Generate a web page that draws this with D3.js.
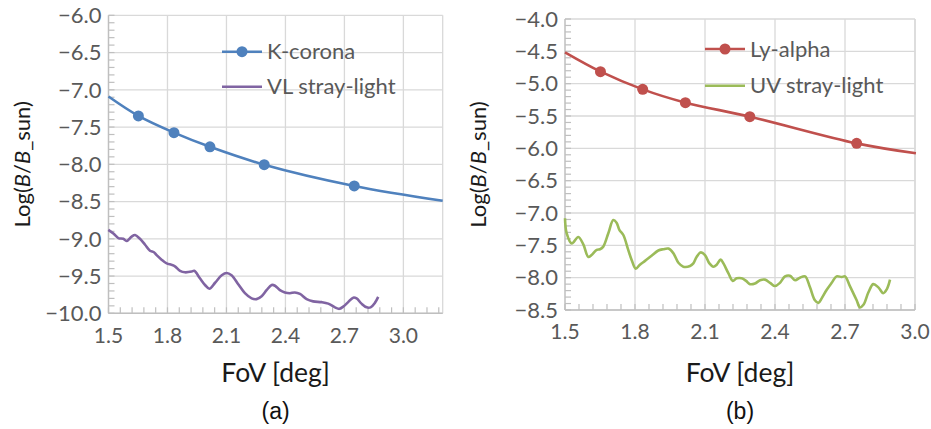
<!DOCTYPE html>
<html><head><meta charset="utf-8">
<script src="https://cdn.jsdelivr.net/npm/d3@7"></script>
<style>
body{margin:0;background:#fff;}
svg{display:block;font-family:Lato,"Open Sans",sans-serif;}
</style></head>
<body><svg id="c" width="931" height="429"></svg>
<script>
// ---- Data ----
const markerFoV = [1.652, 1.833, 2.016, 2.292, 2.750];
const kCoronaLine = [[1.5,-7.09],[1.652,-7.35],[1.833,-7.575],[2.016,-7.765],[2.292,-8.005],[2.750,-8.29],[3.2,-8.49]];
const kCoronaMarkers = [-7.35,-7.575,-7.765,-8.005,-8.29];
const vlStray = [[1.499,-8.88],[1.525,-8.93],[1.550,-8.99],[1.575,-9.00],[1.592,-9.03],[1.618,-8.97],[1.635,-8.95],[1.660,-9.00],[1.686,-9.08],[1.711,-9.16],[1.731,-9.18],[1.745,-9.22],[1.770,-9.28],[1.796,-9.33],[1.821,-9.35],[1.838,-9.37],[1.864,-9.43],[1.889,-9.45],[1.923,-9.44],[1.936,-9.43],[1.965,-9.53],[1.991,-9.62],[2.013,-9.67],[2.042,-9.59],[2.076,-9.49],[2.101,-9.46],[2.126,-9.49],[2.160,-9.61],[2.194,-9.73],[2.228,-9.80],[2.253,-9.81],[2.279,-9.77],[2.304,-9.69],[2.330,-9.62],[2.347,-9.63],[2.372,-9.69],[2.397,-9.72],[2.423,-9.73],[2.448,-9.72],[2.474,-9.74],[2.508,-9.81],[2.541,-9.84],[2.584,-9.85],[2.618,-9.87],[2.652,-9.92],[2.674,-9.94],[2.694,-9.91],[2.719,-9.85],[2.745,-9.79],[2.762,-9.80],[2.787,-9.87],[2.813,-9.92],[2.833,-9.92],[2.855,-9.86],[2.872,-9.78]];
const lyAlphaLine = [[1.5,-4.515],[1.653,-4.814],[1.833,-5.088],[2.017,-5.294],[2.293,-5.51],[2.750,-5.923],[3.004,-6.077]];
const lyAlphaMarkers = [-4.814,-5.088,-5.294,-5.51,-5.923];
const uvStray = [[1.500,-7.08],[1.507,-7.31],[1.529,-7.47],[1.557,-7.37],[1.579,-7.49],[1.600,-7.68],[1.614,-7.65],[1.636,-7.57],[1.650,-7.56],[1.664,-7.52],[1.686,-7.31],[1.707,-7.11],[1.721,-7.15],[1.733,-7.26],[1.750,-7.34],[1.771,-7.57],[1.786,-7.73],[1.803,-7.86],[1.821,-7.80],[1.843,-7.74],[1.871,-7.66],[1.900,-7.58],[1.921,-7.56],[1.943,-7.55],[1.964,-7.62],[1.986,-7.77],[2.007,-7.83],[2.036,-7.82],[2.050,-7.78],[2.064,-7.68],[2.081,-7.61],[2.100,-7.65],[2.119,-7.78],[2.136,-7.83],[2.150,-7.80],[2.167,-7.72],[2.179,-7.78],[2.200,-7.93],[2.219,-8.05],[2.236,-8.01],[2.257,-8.01],[2.276,-8.05],[2.293,-8.10],[2.314,-8.09],[2.336,-8.04],[2.357,-8.03],[2.379,-8.08],[2.400,-8.13],[2.421,-8.08],[2.443,-7.98],[2.464,-7.97],[2.486,-8.04],[2.507,-8.00],[2.529,-7.98],[2.550,-8.15],[2.571,-8.35],[2.586,-8.39],[2.600,-8.32],[2.621,-8.19],[2.643,-8.08],[2.664,-7.98],[2.686,-7.99],[2.700,-7.98],[2.721,-8.13],[2.750,-8.35],[2.764,-8.46],[2.779,-8.42],[2.800,-8.23],[2.821,-8.10],[2.843,-8.15],[2.864,-8.24],[2.879,-8.18],[2.893,-8.03]];
const xTicksA = [1.5,1.8,2.1,2.4,2.7,3.0];
const xTicksB = [1.5,1.8,2.1,2.4,2.7,3.0];
const yTicksA = [-6.0,-6.5,-7.0,-7.5,-8.0,-8.5,-9.0,-9.5,-10.0];
const yTicksB = [-4.0,-4.5,-5.0,-5.5,-6.0,-6.5,-7.0,-7.5,-8.0,-8.5];
const legendA = ["K-corona","VL stray-light"];
const legendB = ["Ly-alpha","UV stray-light"];
const panelLabels = ["(a)","(b)"];

const svg = d3.select("#c");
svg.append("rect").attr("width",931).attr("height",429).attr("fill","#fff");
const fmt = v => (v<0?"\u2212":"")+Math.abs(v).toFixed(1);

function panel(o){
  const g = svg.append("g");
  const x = d3.scaleLinear().domain(o.xDom).range([o.left,o.right]);
  const y = d3.scaleLinear().domain(o.yDom).range([o.bottom,o.top]);
  // gridlines
  g.selectAll(".hg").data(o.yTicks).join("line")
    .attr("x1",o.left).attr("x2",o.right).attr("y1",d=>y(d)).attr("y2",d=>y(d))
    .attr("stroke","#d9d9d9").attr("stroke-width",1.3);
  g.selectAll(".vg").data(o.xTicks.filter(d=>d>o.xDom[0])).join("line")
    .attr("x1",d=>x(d)).attr("x2",d=>x(d)).attr("y1",o.top).attr("y2",o.bottom)
    .attr("stroke","#d9d9d9").attr("stroke-width",1.3);
  g.append("line").attr("x1",o.right).attr("x2",o.right).attr("y1",o.top).attr("y2",o.bottom)
    .attr("stroke","#d9d9d9").attr("stroke-width",1.3);
  // minor ticks
  const yMinor = d3.range(Math.round(o.yDom[0]*10), Math.round(o.yDom[1]*10)+1).map(v=>v/10);
  g.selectAll(".ym").data(yMinor).join("line")
    .attr("x1",o.left).attr("x2",o.left+6).attr("y1",d=>y(d)).attr("y2",d=>y(d))
    .attr("stroke","#bfbfbf").attr("stroke-width",1.2);
  const xMinor = d3.range(0, Math.floor((o.xDom[1]-o.xDom[0])/0.06+1e-6)+1).map(i=>o.xDom[0]+i*0.06);
  g.selectAll(".xm").data(xMinor).join("line")
    .attr("x1",d=>x(d)).attr("x2",d=>x(d)).attr("y1",o.bottom).attr("y2",o.bottom-6)
    .attr("stroke","#bfbfbf").attr("stroke-width",1.2);
  // axes lines
  g.append("line").attr("x1",o.left).attr("x2",o.left).attr("y1",o.top).attr("y2",o.bottom)
    .attr("stroke","#bfbfbf").attr("stroke-width",1.5);
  g.append("line").attr("x1",o.left).attr("x2",o.right).attr("y1",o.bottom).attr("y2",o.bottom)
    .attr("stroke","#bfbfbf").attr("stroke-width",1.5);
  // tick labels
  g.selectAll(".yl").data(o.yTicks).join("text")
    .attr("x",o.left-7).attr("y",d=>y(d)).attr("dy","0.35em").attr("text-anchor","end")
    .attr("font-size",22).attr("fill","#595959").text(fmt);
  g.selectAll(".xl").data(o.xTicks).join("text")
    .attr("x",d=>x(d)).attr("y",o.bottom+22).attr("dy","0.35em").attr("text-anchor","middle")
    .attr("font-size",21).attr("fill","#595959").text(d=>d.toFixed(1));
  // titles
  const yt = g.append("text").attr("transform",`translate(${o.ytX},${(o.top+o.bottom)/2}) rotate(-90)`)
    .attr("text-anchor","middle").attr("dy","0.35em").attr("font-size",22).attr("fill","#1a1a1a");
  yt.append("tspan").text("Log(");
  yt.append("tspan").attr("font-style","italic").text("B");
  yt.append("tspan").text("/");
  yt.append("tspan").attr("font-style","italic").text("B");
  yt.append("tspan").text("_sun)");
  const cx = (o.left+o.right)/2;
  g.append("text").attr("x",cx).attr("y",373).attr("dy","0.35em").attr("text-anchor","middle")
    .attr("font-size",26.5).attr("fill","#1a1a1a").text("FoV [deg]");
  g.append("text").attr("x",cx).attr("y",411).attr("dy","0.35em").attr("text-anchor","middle")
    .attr("font-family","'Liberation Sans',Arial,sans-serif")
    .attr("font-size",23).attr("fill","#111").text(o.label);
  // series
  const line = d3.line().x(d=>x(d[0])).y(d=>y(d[1])).curve(d3.curveCatmullRom.alpha(0.5));
  g.append("path").datum(o.stray).attr("d",line).attr("fill","none")
    .attr("stroke",o.strayColor).attr("stroke-width",2.6).attr("stroke-linejoin","round");
  g.append("path").datum(o.main).attr("d",line).attr("fill","none")
    .attr("stroke",o.mainColor).attr("stroke-width",2.6);
  g.selectAll(".mk").data(markerFoV.map((f,i)=>[f,o.markers[i]])).join("circle")
    .attr("cx",d=>x(d[0])).attr("cy",d=>y(d[1])).attr("r",5.5).attr("fill",o.mainColor);
  // legend
  const L = o.legend;
  g.append("line").attr("x1",L.x).attr("x2",L.x+40).attr("y1",L.y1).attr("y2",L.y1)
    .attr("stroke",o.mainColor).attr("stroke-width",2.6);
  g.append("circle").attr("cx",L.x+20).attr("cy",L.y1).attr("r",5.5).attr("fill",o.mainColor);
  g.append("line").attr("x1",L.x).attr("x2",L.x+40).attr("y1",L.y2).attr("y2",L.y2)
    .attr("stroke",o.strayColor).attr("stroke-width",2.6);
  g.append("text").attr("x",L.x+45).attr("y",L.y1).attr("dy","0.35em").attr("font-size",22)
    .attr("fill","#595959").text(o.legendText[0]);
  g.append("text").attr("x",L.x+45).attr("y",L.y2).attr("dy","0.35em").attr("font-size",22)
    .attr("fill","#595959").text(o.legendText[1]);
}

panel({xDom:[1.5,3.2], yDom:[-10,-6], left:108.5, right:442.7, top:15.3, bottom:313.3,
  xTicks:xTicksA, yTicks:yTicksA, ytX:22, label:panelLabels[0],
  main:kCoronaLine, markers:kCoronaMarkers, stray:vlStray,
  mainColor:"#4f81bd", strayColor:"#8064a2",
  legend:{x:222, y1:51.7, y2:86.7}, legendText:legendA});
panel({xDom:[1.5,3.0], yDom:[-8.5,-4], left:565, right:915, top:19, bottom:310,
  xTicks:xTicksB, yTicks:yTicksB, ytX:478, label:panelLabels[1],
  main:lyAlphaLine, markers:lyAlphaMarkers, stray:uvStray,
  mainColor:"#c0504d", strayColor:"#9bbb59",
  legend:{x:705, y1:49, y2:85.7}, legendText:legendB});
</script></body></html>
